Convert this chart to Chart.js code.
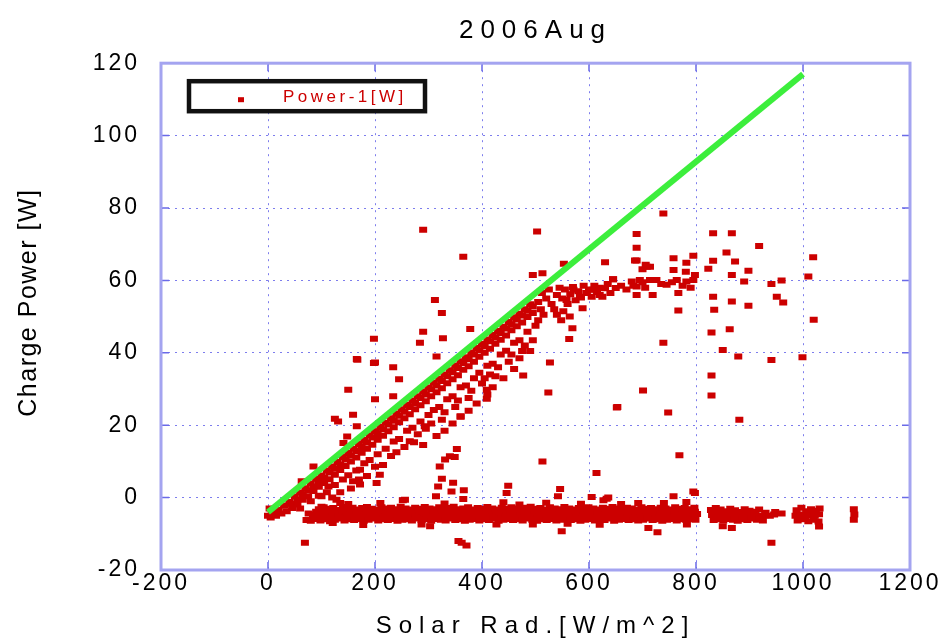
<!DOCTYPE html>
<html>
<head>
<meta charset="utf-8">
<title>2006Aug</title>
<script src="https://cdn.jsdelivr.net/npm/chart.js@4.4.0/dist/chart.umd.min.js"></script>
<style>
    html, body { margin: 0; padding: 0; background: #fff; }
    #chart { display: block; }
</style>
</head>
<body>
<canvas id="chart" width="945" height="641"></canvas>
<script>
// Wykres: moc ladowania vs promieniowanie (sierpien 2006)

const chartTitle = '2006Aug';
const seriesLabel = 'Power-1[W]';
const xTitle = 'Solar Rad.[W/m^2]';
const yTitle = 'Charge Power [W]';

const xTicks = [-200, 0, 200, 400, 600, 800, 1000, 1200];
const yTicks = [-20, 0, 20, 40, 60, 80, 100, 120];

// linia dopasowania (zielona)
const fitX = [0, 1000];
const fitY = [-4, 117];

// pas punktow przy ok. -5 W (noc / brak ladowania)
const bandUpper = [
    [95,-3.2],[104,-2.7],[113,-3.1],[122,-2.9],[131,-3.4],[140,-2.6],[149,-3],[158,-2.8],[167,-3.3],[176,-2.9],
    [185,-2.6],[194,-3.1],[203,-3.3],[212,-2.7],[221,-3],[230,-2.8],[239,-3.2],[248,-2.5],[257,-3],[266,-3.3],
    [275,-2.8],[284,-3.1],[293,-2.6],[302,-3],[311,-3.2],[320,-2.7],[329,-3.1],[338,-2.9],[347,-2.5],[356,-3.2],
    [365,-3],[374,-2.7],[383,-3.3],[392,-2.9],[401,-3.1],[410,-2.6],[419,-3],[428,-3.3],[437,-2.8],[446,-3.1],
    [455,-2.7],[464,-3],[473,-3.2],[482,-2.8],[491,-2.5],[500,-3.1],[509,-2.9],[518,-3.3],[527,-2.7],[536,-3],
    [545,-3.2],[554,-2.6],[563,-3],[572,-3.3],[581,-2.9],[590,-3.1],[599,-2.7],[608,-3],[617,-3.3],[626,-2.8],
    [635,-3.1],[644,-2.6],[653,-3],[662,-3.2],[671,-2.8],[680,-3],[689,-3.3],[698,-2.7],[707,-3.1],[716,-2.9],
    [725,-3.2],[734,-2.8],[743,-3],[752,-3.3],[761,-2.7],[770,-3.1],[779,-2.9],[788,-3.2],[797,-2.8]
];
const bandFill1 = [
    [90,-3.9],[102,-3.7],[114,-3.9],[126,-3.8],[138,-3.6],[150,-3.9],[162,-3.8],[174,-3.7],[186,-3.9],[198,-3.8],
    [210,-3.6],[222,-3.9],[234,-3.8],[246,-3.7],[258,-3.9],[270,-3.8],[282,-3.6],[294,-3.9],[306,-3.8],[318,-3.7],
    [330,-3.9],[342,-3.8],[354,-3.6],[366,-3.9],[378,-3.8],[390,-3.7],[402,-3.9],[414,-3.8],[426,-3.6],[438,-3.9],
    [450,-3.8],[462,-3.7],[474,-3.9],[486,-3.8],[498,-3.6],[510,-3.9],[522,-3.8],[534,-3.7],[546,-3.9],[558,-3.8],
    [570,-3.6],[582,-3.9],[594,-3.8],[606,-3.7],[618,-3.9],[630,-3.8],[642,-3.6],[654,-3.9],[666,-3.8],[678,-3.7],
    [690,-3.9],[702,-3.8],[714,-3.6],[726,-3.9],[738,-3.8],[750,-3.7],[762,-3.9],[774,-3.8],[786,-3.6],[798,-3.9]
];
const bandMiddle = [
    [76,-4.4],[85,-4.8],[94,-4.5],[103,-4.7],[112,-4.3],[121,-4.9],[130,-4.6],[139,-4.4],[148,-4.8],[157,-4.5],
    [166,-4.7],[175,-4.3],[184,-4.6],[193,-4.9],[202,-4.5],[211,-4.4],[220,-4.8],[229,-4.6],[238,-4.3],[247,-4.7],
    [256,-4.5],[265,-4.9],[274,-4.4],[283,-4.6],[292,-4.8],[301,-4.5],[310,-4.3],[319,-4.7],[328,-4.6],[337,-4.4],
    [346,-4.9],[355,-4.5],[364,-4.7],[373,-4.3],[382,-4.6],[391,-4.8],[400,-4.5],[409,-4.4],[418,-4.7],[427,-4.6],
    [436,-4.3],[445,-4.9],[454,-4.5],[463,-4.6],[472,-4.8],[481,-4.4],[490,-4.7],[499,-4.5],[508,-4.3],[517,-4.6],
    [526,-4.9],[535,-4.4],[544,-4.7],[553,-4.5],[562,-4.6],[571,-4.8],[580,-4.3],[589,-4.6],[598,-4.7],[607,-4.4],
    [616,-4.5],[625,-4.9],[634,-4.6],[643,-4.3],[652,-4.7],[661,-4.5],[670,-4.8],[679,-4.4],[688,-4.6],[697,-4.7],
    [706,-4.5],[715,-4.3],[724,-4.8],[733,-4.6],[742,-4.4],[751,-4.7],[760,-4.5],[769,-4.9],[778,-4.6],[787,-4.4],
    [796,-4.7],[802,-4.5]
];
const bandFill2 = [
    [84,-5.4],[96,-5.3],[108,-5.5],[120,-5.4],[132,-5.3],[144,-5.5],[156,-5.4],[168,-5.3],[180,-5.5],[192,-5.4],
    [204,-5.3],[216,-5.5],[228,-5.4],[240,-5.3],[252,-5.5],[264,-5.4],[276,-5.3],[288,-5.5],[300,-5.4],[312,-5.3],
    [324,-5.5],[336,-5.4],[348,-5.3],[360,-5.5],[372,-5.4],[384,-5.3],[396,-5.5],[408,-5.4],[420,-5.3],[432,-5.5],
    [444,-5.4],[456,-5.3],[468,-5.5],[480,-5.4],[492,-5.3],[504,-5.5],[516,-5.4],[528,-5.3],[540,-5.5],[552,-5.4],
    [564,-5.3],[576,-5.5],[588,-5.4],[600,-5.3],[612,-5.5],[624,-5.4],[636,-5.3],[648,-5.5],[660,-5.4],[672,-5.3],
    [684,-5.5],[696,-5.4],[708,-5.3],[720,-5.5],[732,-5.4],[744,-5.3],[756,-5.5],[768,-5.4],[780,-5.3],[792,-5.5]
];
const bandLower = [
    [72,-6.2],[80,-6.4],[89,-5.9],[98,-6.3],[107,-6],[116,-6.5],[125,-6.1],[134,-5.8],[143,-6.3],[152,-6],
    [161,-6.2],[170,-5.9],[179,-6.4],[188,-6.1],[197,-5.8],[206,-6.3],[215,-6],[224,-6.2],[233,-5.9],[242,-6.4],
    [251,-6.1],[260,-6],[269,-6.3],[278,-5.8],[287,-6.2],[296,-6],[305,-6.4],[314,-5.9],[323,-6.1],[332,-6.3],
    [341,-5.8],[350,-6.2],[359,-6],[368,-6.4],[377,-6.1],[386,-5.9],[395,-6.3],[404,-6],[413,-6.2],[422,-5.8],
    [431,-6.4],[440,-6.1],[449,-5.9],[458,-6.2],[467,-6],[476,-6.3],[485,-5.8],[494,-6.1],[503,-6.4],[512,-6],
    [521,-6.2],[530,-5.9],[539,-6.3],[548,-6.1],[557,-5.8],[566,-6.2],[575,-6],[584,-6.4],[593,-6.1],[602,-5.9],
    [611,-6.3],[620,-6],[629,-6.2],[638,-5.8],[647,-6.4],[656,-6.1],[665,-5.9],[674,-6.2],[683,-6],[692,-6.3],
    [701,-6.1],[710,-5.8],[719,-6.2],[728,-6],[737,-6.4],[746,-6.1],[755,-5.9],[764,-6.3],[773,-6],[782,-6.2],
    [791,-5.9],[799,-6.1]
];
const bandRight = [
    [828,-3.4],[837,-2.9],[846,-3.3],[855,-3.8],[864,-3.1],[873,-3.5],[882,-4],[891,-3.2],[900,-3.6],[909,-3.9],
    [918,-3.3],[930,-4.2],[948,-4],
    [830,-4.8],[839,-5.1],[848,-4.7],[857,-5],[866,-4.8],[875,-5.2],[884,-4.9],[893,-4.6],[902,-5],[911,-4.8],
    [920,-5.1],[929,-4.9],[938,-5],[946,-4.7],
    [833,-6.2],[842,-6],[851,-6.3],[860,-5.9],[869,-6.1],[878,-6.4],[887,-6],[896,-6.2],[905,-5.8],[914,-6.1],
    [925,-6.3],[960,-4.4],
    [835,-4],[850,-4.1],[865,-3.9],[880,-4.2],[895,-4],[910,-4.1],[840,-5.6],[856,-5.5],[872,-5.7],[888,-5.5],
    [904,-5.6],[918,-5.5],
    [988,-3.5],[997,-2.8],[1006,-3.8],[1015,-3.2],[1024,-3.6],[1031,-3],
    [986,-5],[995,-4.7],[1004,-5.1],[1013,-4.8],[1022,-5],[1030,-4.6],
    [990,-6.3],[1000,-6],[1010,-6.5],[1020,-6.1],[1029,-6.6],[1030,-8],
    [1095,-3.2],[1096,-4.7],[1095,-6.1]
];

// klin pod linia dopasowania (0 - 500 W/m2)
const wedgeA = [
    [0,-5],[10,-4.6],[20,-3.4],[30,-2.2],[40,-1.2],[50,0.3],[60,1.4],[70,2.6],[80,3.9],[90,5.2],
    [100,6.1],[110,7.5],[120,8.6],[130,9.8],[140,11.2],[150,12.3],[160,13.5],[170,14.8],[180,15.9],[190,17.2],
    [200,18.3],[210,19.6],[220,20.7],[230,21.9],[240,23.2],[250,24.4],[260,25.6],[270,26.8],[280,28],[290,29.3],
    [300,30.4],[310,31.7],[320,32.8],[330,34],[340,35.2],[350,36.5],[360,37.7],[370,38.8],[380,40.1],[390,41.3],
    [400,42.4],[410,43.7],[420,44.9],[430,46],[440,47.2],[450,48.5],[460,49.8],[470,50.8],[480,52],[490,53.4]
];
const wedgeA2 = [
    [45,-1.7],[55,-0.5],[65,0.9],[75,2],[85,3.1],[95,4.5],[105,5.5],[115,6.9],[125,8],[135,9.1],
    [145,10.5],[155,11.6],[165,12.9],[175,14],[185,15.2],[195,16.6],[205,17.6],[215,18.9],[225,20.2],[235,21.2],
    [245,22.6],[255,23.7],[265,25],[275,26.1],[285,27.5],[295,28.5],[305,29.9],[315,31],[325,32.2],[335,33.5],
    [345,34.6],[355,35.8],[365,37.2],[375,38.2],[385,39.5],[395,40.7],[405,41.8],[415,43.2],[425,44.2],[435,45.5],
    [445,46.7],[455,47.9],[465,49.2],[475,50.3],[485,51.6],[495,52.8]
];
const wedgeB = [
    [5,-5.5],[15,-5],[25,-4.4],[35,-3.8],[45,-2.9],[55,-1.9],[65,-0.6],[75,0.4],[85,1.8],[95,3],
    [105,4],[115,5.1],[125,6.3],[135,7.6],[145,8.7],[155,10],[165,11.1],[175,12.4],[185,13.5],[195,14.6],
    [205,16],[215,17.1],[225,18.3],[235,19.4],[245,20.8],[255,21.9],[265,23],[275,24.4],[285,25.5],[295,26.6],
    [305,28],[315,29.1],[325,30.2],[335,31.6],[345,32.7],[355,33.8],[365,35.3],[375,36.3],[385,37.5],[395,38.9],
    [405,40],[415,41.1],[425,42.5],[435,43.6],[445,44.8],[455,46.2],[465,47.3],[475,48.4],[485,49.9],[495,51]
];
const wedgeC = [
    [60,-3],[80,-1],[95,0.5],[110,1.5],[125,3.5],[140,5],[150,6.2],[165,7.5],[180,9.5],[190,10.4],
    [205,12],[220,13.5],[235,15.5],[245,16.2],[260,18.5],[270,19.3],[285,21],[300,22.8],[310,24.2],[320,25],
    [335,27.2],[345,28],[360,30.5],[370,31],[385,33],[395,34.5],[410,36.4],[420,37],[435,39.5],[445,40.6],
    [460,42.8],[470,43.5],[485,45.8],[500,47.5]
];
const wedgeD = [
    [100,-2.5],[120,0],[135,1.5],[155,2.5],[170,5],[185,6],[200,8.5],[215,9],[230,11.5],[240,12.5],
    [255,14],[265,15.6],[280,17.5],[295,19],[305,20.5],[325,21.5],[330,23.6],[350,25],[355,26.8],[375,27.5],
    [380,29.5],[400,31.5],[405,33],[425,33.5],[430,36],[450,37.5],[455,39.5],[475,40.5],[480,42],[495,43.5],
    [290,14.5],[315,17],[330,18.5],[345,20.5],[360,22.5],[375,24],[390,26],[410,28.5],[420,30.5],[440,33],
    [460,35.5],[470,38.5],[490,40.5],[505,49],[510,52],[515,50.5]
];

// plateau ok. 55-60 W (500 - 800 W/m2)
const plateau = [
    [505,54],[512,56.5],[520,55],[525,57.5],[530,53.5],[535,52],[540,56],[545,58],[550,55],[555,57.5],
    [560,53.5],[565,56.2],[570,58.2],[575,54.5],[580,57],[585,55.3],[590,58.5],[595,56.5],[600,57.5],[605,55.5],
    [610,58.5],[615,56.8],[620,58],[625,55.5],[630,57.8],[635,59],[640,56.5],[645,60.3],[650,57.9],[660,58.5],
    [670,57.5],[680,59.7],[683,58.5],[689,58.3],[689,56],[695,60.1],[700,59.5],[705,58],[714,60.1],[719,56],
    [726,60.1],[735,59],[745,58.8],[755,59.5],[764,60.1],[767,56.5],[775,58.5],[782,59.7],[790,58],[795,60.1],
    [798,61.5],[540,50.5],[548,49],[552,51.5],[564,50],[569,46.8],[563,43.8],[588,52.3],[558,54.6],[583,55.5],
    [596,56.5],[608,57.4],[620,56],[571,57.4]
];

// pojedyncze punkty rozrzucone
const scattered = [
    [290,74],[503,73.5],[689,72.8],[689,69],[365,66.5],[630,65],[689,65.5],[553,64.6],[708,63.8],[513,62],
    [495,61.5],[312,54.6],[325,51],[290,45.8],[284,42.8],[327,44],[198,43.9],[378,46.6],[315,39],[166,38.3],
    [198,37.2],[234,36],[477,33.7],[527,37.3],[524,29],[652,24.9],[701,29.6],[409,29.8],[409,27.3],[415,34],
    [150,29.8],[125,21.8],[131,21],[159,22.9],[360,22.3],[273,15.3],[293,19.7],[353,13.4],[340,11.4],[349,11.2],
    [331,10.5],[321,8.6],[325,5.2],[318,3.1],[346,4.1],[343,1.7],[366,2],[449,3.3],[446,1.3],[513,10],
    [546,2.4],[542,0.4],[614,6.8],[636,0],[627,-0.7],[692,-1.5],[252,-0.7],[314,0.4],[365,-0.4],[440,-1.3],
    [605,0.2],[549,-9.3],[356,-12],[362,-12.5],[371,-13.2],[69,-12.5],[121,-7],[178,-7.6],[303,-7.9],[287,-7.4],
    [427,-7.4],[495,-7.4],[560,-7.2],[620,-7.5],[711,-8.4],[728,-9.6],[850,-7.9],[867,-8.4],[783,-7.4],[941,-12.5],
    [739,78.5],[867,73],[832,73],[686,65.5],[857,67.7],[832,65.4],[873,65.2],[823,63.2],[867,61.5],[706,64.3],
    [714,63.8],[700,63.1],[758,66.1],[782,64.9],[795,66.8],[758,62.9],[781,62.4],[645,60.3],[739,42.8],[829,45.6],
    [863,46.5],[867,54.2],[832,55.5],[834,51.9],[850,40.8],[879,39],[829,33.7],[918,69.5],[898,62.7],[890,59.7],
    [941,59],[960,60],[951,55.5],[963,53.9],[1019,66.4],[1010,61.1],[1020,49.1],[898,53],[767,51.7],[941,38],
    [999,38.8],[829,28.2],[653,25],[748,23.5],[881,21.5],[769,11.7],[798,1.3],[758,0.4],[633,-0.3],[795,1.7],
    [200,27.2],[234,28],[245,32.7],[166,19.7],[148,16.9],[141,15.1],[85,8.6],[63,4.5],[209,6.3],[203,4],
    [172,7.7],[172,3.6],[159,4.5],[103,4.5],[113,3.1],[100,0.4],[128,-0.6],[135,-1.5],[256,-0.6],[167,38.1],
    [200,37.3],[7,-4.2],[3,-3],[150,-1.8],[210,-1.5],[330,-1.6],[470,-1.9],[520,-1.4],[585,-1.7],[660,-1.8],
    [740,-1.5],[782,-1.2]
];

const FONT = "'Liberation Sans Narrow', 'Liberation Sans', Arial, sans-serif";
const RED = '#cc0000';

document.addEventListener('DOMContentLoaded', () => {
    const ctx = document.getElementById('chart').getContext('2d');

    const allPoints = [].concat(bandUpper, bandFill1, bandMiddle, bandFill2, bandLower, bandRight,
        wedgeA, wedgeA2, wedgeB, wedgeC, wedgeD, plateau, scattered)
        .map(p => ({ x: p[0], y: p[1] }));

    const fitLine = fitX.map((x, i) => ({ x: x, y: fitY[i] }));

    // ramka, kreski podzialki do srodka i legenda w ramce
    const framePlugin = {
        id: 'frame',
        afterDatasetsDraw(chart) {
            const c = chart.ctx;
            const a = chart.chartArea;
            const sx = chart.scales.x;
            const sy = chart.scales.y;
            c.save();
            c.strokeStyle = '#6a6ae8';
            c.lineWidth = 1.5;
            c.beginPath();
            xTicks.forEach(v => {
                const px = sx.getPixelForValue(v);
                c.moveTo(px, a.bottom); c.lineTo(px, a.bottom - 8);
                c.moveTo(px, a.top); c.lineTo(px, a.top + 8);
            });
            yTicks.forEach(v => {
                const py = sy.getPixelForValue(v);
                c.moveTo(a.left, py); c.lineTo(a.left + 8, py);
                c.moveTo(a.right, py); c.lineTo(a.right - 8, py);
            });
            c.stroke();
            c.strokeStyle = '#a4a4f0';
            c.lineWidth = 3;
            c.strokeRect(a.left, a.top, a.right - a.left, a.bottom - a.top);
            c.restore();
        },
        afterDraw(chart) {
            const c = chart.ctx;
            const a = chart.chartArea;
            const ds = chart.data.datasets[0];
            c.save();
            c.fillStyle = '#fff';
            c.fillRect(a.left + 28, a.top + 18, 236, 30);
            c.strokeStyle = '#111';
            c.lineWidth = 4.5;
            c.strokeRect(a.left + 28, a.top + 18, 236, 30);
            c.fillStyle = RED;
            c.fillRect(a.left + 77, a.top + 34, 6, 5);
            c.font = '17px ' + FONT;
            c.letterSpacing = '3.5px';
            c.textBaseline = 'middle';
            c.fillText(ds.label, a.left + 122, a.top + 34);
            c.restore();
        }
    };

    const chart = new Chart(ctx, {
        type: 'scatter',
        data: {
            datasets: [{
                label: seriesLabel,
                data: allPoints,
                backgroundColor: RED,
                borderColor: RED,
                borderWidth: 6,
                pointStyle: 'line',
                radius: 4,
                pointRadius: 4,
                pointBorderWidth: 6,
                order: 1
            }, {
                label: 'fit',
                data: fitLine,
                showLine: true,
                borderColor: '#3cee3c',
                borderWidth: 6,
                pointRadius: 0,
                order: 0
            }]
        },
        options: {
            responsive: false,
            animation: false,
            devicePixelRatio: 1,
            events: [],
            layout: {
                padding: { left: 0, right: 35, top: 0, bottom: 0 }
            },
            scales: {
                x: {
                    min: -200,
                    max: 1200,
                    afterBuildTicks: (scale) => { scale.ticks = xTicks.map(v => ({ value: v })); },
                    afterFit: (scale) => { scale.height = 71; },
                    grid: { color: 'rgba(70,70,230,0.7)', lineWidth: 1, drawTicks: false },
                    border: { display: false, dash: [2, 5] },
                    ticks: {
                        color: '#000', padding: 0, maxRotation: 0,
                        font: { family: FONT, size: 23 },
                        callback: (v) => String(v)
                    },
                    title: {
                        display: true,
                        text: xTitle,
                        color: '#000',
                        padding: { top: 0, bottom: 0 },
                        font: { family: FONT, size: 24 }
                    }
                },
                y: {
                    min: -20,
                    max: 120,
                    afterBuildTicks: (scale) => { scale.ticks = yTicks.map(v => ({ value: v })); },
                    afterFit: (scale) => { scale.width = 161; },
                    grid: { color: 'rgba(70,70,230,0.7)', lineWidth: 1, drawTicks: false },
                    border: { display: false, dash: [2, 5] },
                    ticks: {
                        color: '#000', padding: 21,
                        font: { family: FONT, size: 23 },
                        callback: (v) => String(v)
                    },
                    title: {
                        display: true,
                        text: yTitle,
                        color: '#000',
                        padding: { top: 14, bottom: 0 },
                        font: { family: FONT, size: 25 }
                    }
                }
            },
            plugins: {
                legend: { display: false },
                tooltip: { enabled: false },
                title: {
                    display: true,
                    text: chartTitle,
                    color: '#000',
                    fullSize: false,
                    padding: { top: 15, bottom: 17 },
                    font: { family: FONT, size: 26, weight: 'normal' }
                }
            }
        },
        plugins: [framePlugin]
    });

    // rozstrzelone litery jak w oryginale
    function spaced(obj, name, sp, shiftY) {
        const orig = obj[name];
        obj[name] = function (...args) {
            const c = this.ctx;
            c.save();
            c.letterSpacing = sp;
            if (shiftY) c.translate(0, shiftY);
            orig.apply(this, args);
            c.restore();
        };
    }
    spaced(chart.titleBlock, 'draw', '7px');
    spaced(chart.scales.x, 'drawLabels', '3px');
    spaced(chart.scales.x, 'drawTitle', '7px');
    spaced(chart.scales.y, 'drawLabels', '3px');
    spaced(chart.scales.y, 'drawTitle', '1.5px', -14);
    chart.draw();
});
</script>
</body>
</html>
